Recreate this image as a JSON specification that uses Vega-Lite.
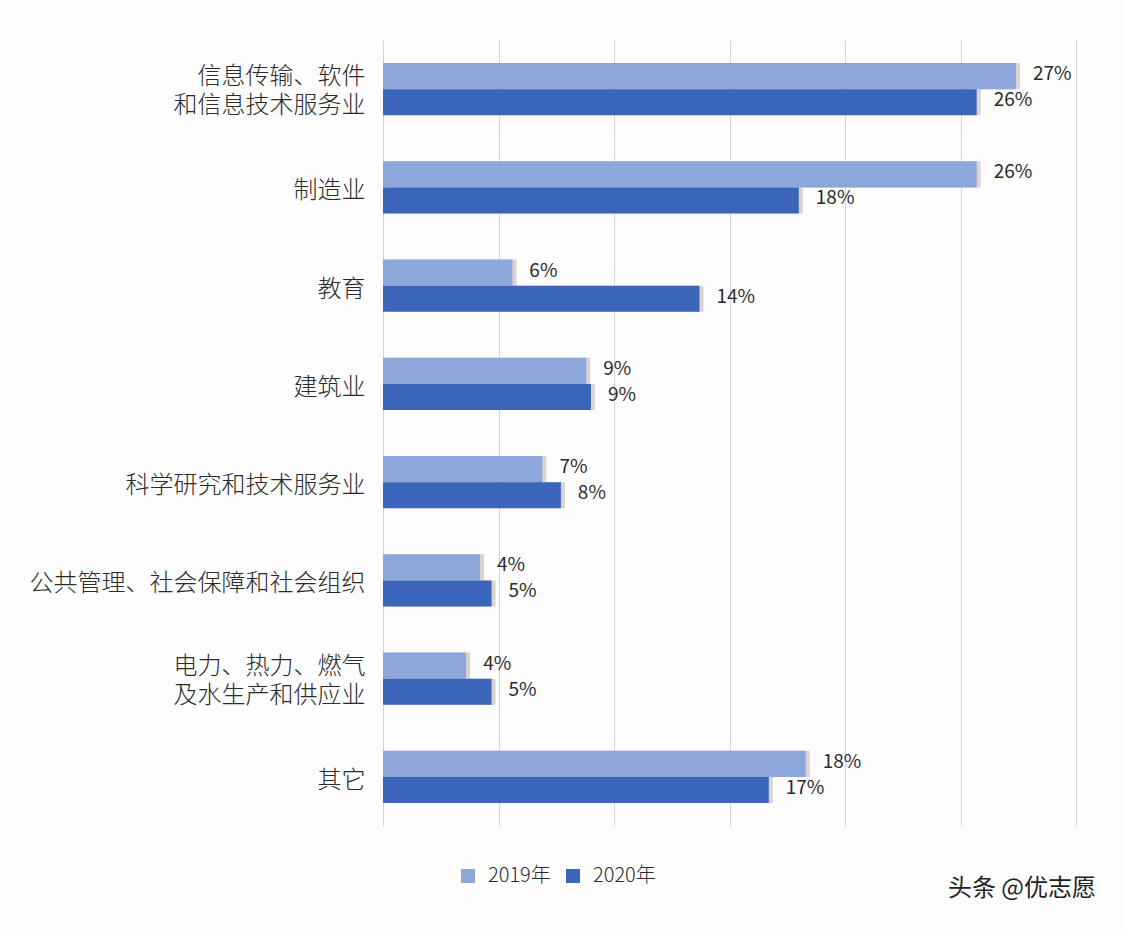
{
  "$schema": "https://vega.github.io/schema/vega-lite/v6.json",
  "autosize": "none",
  "width": 693,
  "height": 786,
  "padding": {"left": 383, "top": 40, "right": 48, "bottom": 104},
  "background": "#fdfdfd",
  "config": {"font": "Noto Sans CJK SC", "view": {"stroke": null}},
  "title": {"text": "头条 @优志愿", "orient": "bottom", "anchor": "end", "fontSize": 24, "fontWeight": "normal", "color": "#222", "offset": 0, "frame": "group", "dx": 20, "dy": -9},
  "data": {"values": [
    {"cat": "信息传输、软件|和信息技术服务业", "year": "2019年", "value": 27.4, "label": "27%"},
    {"cat": "信息传输、软件|和信息技术服务业", "year": "2020年", "value": 25.7, "label": "26%"},
    {"cat": "制造业", "year": "2019年", "value": 25.7, "label": "26%"},
    {"cat": "制造业", "year": "2020年", "value": 18.0, "label": "18%"},
    {"cat": "教育", "year": "2019年", "value": 5.6, "label": "6%"},
    {"cat": "教育", "year": "2020年", "value": 13.7, "label": "14%"},
    {"cat": "建筑业", "year": "2019年", "value": 8.8, "label": "9%"},
    {"cat": "建筑业", "year": "2020年", "value": 9.0, "label": "9%"},
    {"cat": "科学研究和技术服务业", "year": "2019年", "value": 6.9, "label": "7%"},
    {"cat": "科学研究和技术服务业", "year": "2020年", "value": 7.7, "label": "8%"},
    {"cat": "公共管理、社会保障和社会组织", "year": "2019年", "value": 4.2, "label": "4%"},
    {"cat": "公共管理、社会保障和社会组织", "year": "2020年", "value": 4.7, "label": "5%"},
    {"cat": "电力、热力、燃气|及水生产和供应业", "year": "2019年", "value": 3.6, "label": "4%"},
    {"cat": "电力、热力、燃气|及水生产和供应业", "year": "2020年", "value": 4.7, "label": "5%"},
    {"cat": "其它", "year": "2019年", "value": 18.3, "label": "18%"},
    {"cat": "其它", "year": "2020年", "value": 16.7, "label": "17%"}
  ]},
  "encoding": {
    "y": {"field": "cat", "type": "nominal", "sort": null, "title": null,
      "scale": {"paddingInner": 0.47, "paddingOuter": 0.235},
      "axis": {"domain": false, "ticks": false, "labelFontSize": 24, "labelFontWeight": 300, "labelColor": "#2b2b2b", "labelPadding": 18, "labelExpr": "split(datum.value, '|')", "labelLineHeight": 29, "labelLimit": 400,
        "labelOffset": {"condition": {"test": "indexof(datum.value, '|') >= 0", "value": -12}, "value": 4}}},
    "yOffset": {"field": "year", "type": "nominal", "sort": ["2019年", "2020年"]},
    "x": {"field": "value", "type": "quantitative", "title": null,
      "scale": {"domain": [0, 30], "nice": false},
      "axis": {"values": [0, 5, 10, 15, 20, 25, 30], "labels": false, "ticks": false, "domain": false, "grid": true, "gridColor": "#d4d4d4", "gridWidth": 1}}
  },
  "layer": [
    {"mark": {"type": "bar", "color": "#c9c0bd", "opacity": 0.7, "xOffset": 4, "yOffset": 4}},
    {"mark": {"type": "bar"},
      "encoding": {"color": {"field": "year", "type": "nominal",
        "scale": {"domain": ["2019年", "2020年"], "range": ["#8EA7DA", "#3A65B8"]},
        "legend": {"title": null, "orient": "none", "legendX": 75, "legendY": 826, "direction": "horizontal", "symbolType": "square", "symbolSize": 196, "labelFontSize": 20, "labelFontWeight": 300, "labelColor": "#2b2b2b", "labelOffset": 10, "columnPadding": 12, "symbolStrokeWidth": 0}}}},
    {"mark": {"type": "text", "align": "left", "baseline": "middle", "dx": 17, "dy": -2, "fontSize": 19, "color": "#2b2b2b"},
      "encoding": {"text": {"field": "label"}}}
  ]
}
